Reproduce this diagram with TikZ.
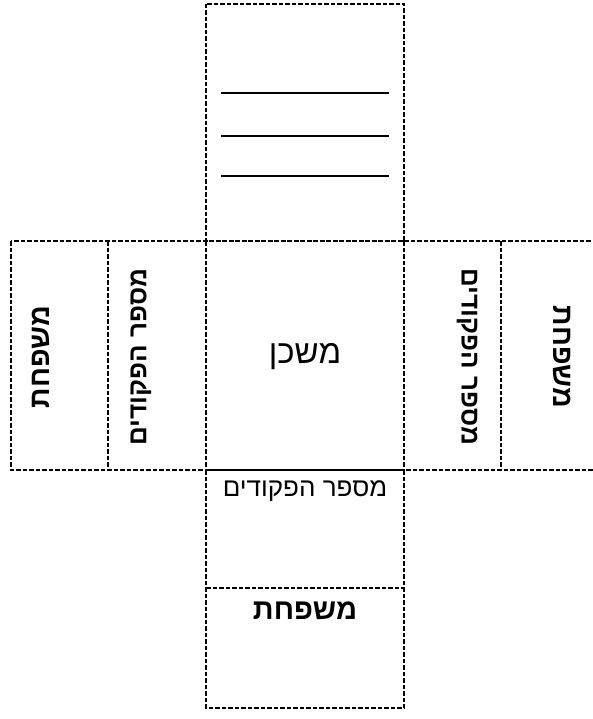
\documentclass[tikz,border=0pt]{standalone}
\usepackage{fontspec}
\newfontfamily\heb[Script=Hebrew]{Liberation Sans}
\TeXXeTstate=1
\begin{document}
\begin{tikzpicture}[x=1pt,y=-1pt,
  cut/.style={draw=black,line width=2pt,dash pattern=on 4.5pt off 2pt},
  rule/.style={draw=black,line width=2.5pt},
  lbl/.style={font=\heb\fontsize{26}{30}\selectfont,inner sep=0pt},
  side/.style={font=\heb\bfseries\fontsize{26}{30}\selectfont,inner sep=0pt},
  sidebig/.style={font=\heb\bfseries\fontsize{28.5}{32}\selectfont,inner sep=0pt}]
\useasboundingbox (0,0) rectangle (592,719);
% top flap
\draw[cut] (206,4) rectangle (404,241);
\draw[rule] (221,93) -- (389,93);
\draw[rule] (221,136) -- (389,136);
\draw[rule] (221,176) -- (389,176);
% middle row
\draw[cut] (11,241) rectangle (595,470);
\draw[cut] (108,241) -- (108,470);
\draw[cut] (206,241) -- (206,470);
\draw[cut] (404,241) -- (404,470);
\draw[cut] (501,241) -- (501,470);
% bottom
\draw[cut] (206,470) rectangle (404,708);
\draw[cut] (206,588) -- (404,588);
% texts
\node[sidebig,rotate=90] (l1) at (41,357) {\beginR משפחת\endR};
\node[side,rotate=90] (l2) at (141,357) {\beginR מספר הפקודים\endR};
\node[side,rotate=-90] (r2) at (467,357) {\beginR מספר הפקודים\endR};
\node[sidebig,rotate=-90] (r1) at (562,357) {\beginR משפחת\endR};
\node[lbl,font=\heb\fontsize{33}{36}\selectfont] (c) at (305,357) {\beginR משכן\endR};
\node[lbl] (b1) at (305,491) {\beginR מספר הפקודים\endR};
\node[lbl,font=\heb\bfseries\fontsize{29}{32}\selectfont] (b2) at (305,611) {\beginR משפחת\endR};
\end{tikzpicture}
\end{document}
